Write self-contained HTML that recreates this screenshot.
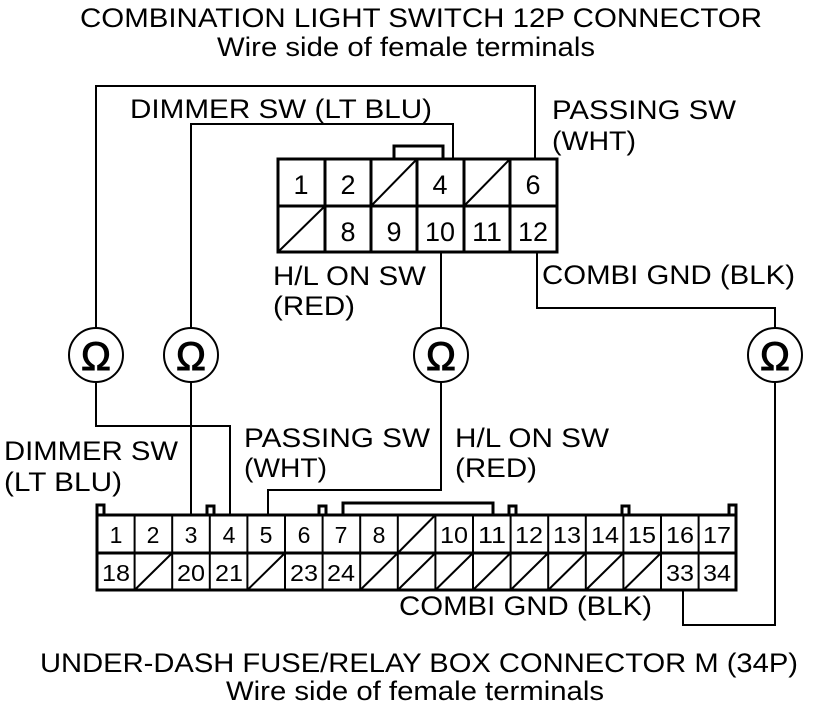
<!DOCTYPE html>
<html><head><meta charset="utf-8"><style>body{margin:0;background:#fff}svg{display:block}</style></head><body>
<svg width="832" height="708" viewBox="0 0 832 708" xmlns="http://www.w3.org/2000/svg" font-family="Liberation Sans, sans-serif" fill="#000">
<g font-size="27">
<text x="80" y="27" textLength="682" lengthAdjust="spacingAndGlyphs">COMBINATION LIGHT SWITCH 12P CONNECTOR</text>
<text x="217" y="56" textLength="378" lengthAdjust="spacingAndGlyphs">Wire side of female terminals</text>
<text x="40" y="672" textLength="758" lengthAdjust="spacingAndGlyphs">UNDER-DASH FUSE/RELAY BOX CONNECTOR M (34P)</text>
<text x="226" y="700" textLength="378" lengthAdjust="spacingAndGlyphs">Wire side of female terminals</text>
</g>
<g font-size="27" lengthAdjust="spacingAndGlyphs">
<text x="130" y="118" textLength="302" lengthAdjust="spacingAndGlyphs">DIMMER SW (LT BLU)</text>
<text x="552" y="119" textLength="184" lengthAdjust="spacingAndGlyphs">PASSING SW</text>
<text x="552" y="150" textLength="84" lengthAdjust="spacingAndGlyphs">(WHT)</text>
<text x="273" y="285" textLength="153" lengthAdjust="spacingAndGlyphs">H/L ON SW</text>
<text x="273" y="315" textLength="82" lengthAdjust="spacingAndGlyphs">(RED)</text>
<text x="542" y="284" textLength="253" lengthAdjust="spacingAndGlyphs">COMBI GND (BLK)</text>
<text x="4" y="460" textLength="174" lengthAdjust="spacingAndGlyphs">DIMMER SW</text>
<text x="4" y="491" textLength="118" lengthAdjust="spacingAndGlyphs">(LT BLU)</text>
<text x="244" y="447" textLength="186" lengthAdjust="spacingAndGlyphs">PASSING SW</text>
<text x="244" y="477" textLength="83" lengthAdjust="spacingAndGlyphs">(WHT)</text>
<text x="455" y="447" textLength="154" lengthAdjust="spacingAndGlyphs">H/L ON SW</text>
<text x="455" y="477" textLength="82" lengthAdjust="spacingAndGlyphs">(RED)</text>
<text x="399" y="615" textLength="253" lengthAdjust="spacingAndGlyphs">COMBI GND (BLK)</text>
</g>
<g fill="none" stroke="#000" stroke-width="2">
<polyline points="96,328 96,86 535,86 535,159"/>
<polyline points="96,382 96,426 230,426 230,515"/>
<polyline points="453,159 453,124 191,124 191,328"/>
<polyline points="191,382 191,515"/>
<polyline points="441,252 441,328"/>
<polyline points="441,382 441,490 268,490 268,515"/>
<polyline points="537,252 537,308 775,308 775,328"/>
<polyline points="775,382 775,625 683,625 683,590"/>
<circle cx="96" cy="355" r="27"/>
<circle cx="191" cy="355" r="27"/>
<circle cx="441" cy="355" r="27"/>
<circle cx="775" cy="355" r="27"/>
</g>
<g font-size="40" text-anchor="middle" stroke="#000" stroke-width="1">
<text x="96" y="370">Ω</text><text x="191" y="370">Ω</text><text x="441" y="370">Ω</text><text x="775" y="370">Ω</text>
</g>
<g fill="none" stroke="#000" stroke-width="3">
<rect x="278" y="159" width="279" height="93"/>
<polyline points="394,159 394,146 443,146 443,159"/>
<line x1="278" y1="206" x2="557" y2="206"/>
<line x1="325" y1="159" x2="325" y2="252"/>
<line x1="371" y1="159" x2="371" y2="252"/>
<line x1="417" y1="159" x2="417" y2="252"/>
<line x1="464" y1="159" x2="464" y2="252"/>
<line x1="510" y1="159" x2="510" y2="252"/>
</g>
<g stroke="#000" stroke-width="2">
<line x1="325" y1="206" x2="278" y2="252"/>
<line x1="417" y1="159" x2="371" y2="206"/>
<line x1="510" y1="159" x2="464" y2="206"/>
</g>
<g font-size="27" text-anchor="middle">
<text x="301" y="194">1</text><text x="348" y="194">2</text><text x="440" y="194">4</text><text x="533" y="194">6</text>
<text x="348" y="241">8</text><text x="394" y="241">9</text><text x="440" y="241" textLength="30" lengthAdjust="spacingAndGlyphs">10</text><text x="487" y="241" textLength="30" lengthAdjust="spacingAndGlyphs">11</text><text x="533" y="241" textLength="30" lengthAdjust="spacingAndGlyphs">12</text>
</g>
<g fill="none" stroke="#000" stroke-width="3">
<rect x="97" y="515" width="639" height="75"/>
<line x1="97" y1="553" x2="736" y2="553"/>
<polyline points="343,515 343,503 493,503 493,515"/>
<polyline points="97,515 97,505 104,505 104,515"/>
<polyline points="729,515 729,505 736,505 736,515"/>
<polyline points="207,515 207,506 214,506 214,515"/>
<polyline points="319,515 319,506 326,506 326,515"/>
<polyline points="509,515 509,506 516,506 516,515"/>
<polyline points="622,515 622,506 629,506 629,515"/>
</g>
<g stroke="#000" stroke-width="2">
<line x1="134.6" y1="515" x2="134.6" y2="590"/><line x1="172.2" y1="515" x2="172.2" y2="590"/>
<line x1="209.8" y1="515" x2="209.8" y2="590"/><line x1="247.4" y1="515" x2="247.4" y2="590"/>
<line x1="285" y1="515" x2="285" y2="590"/><line x1="322.6" y1="515" x2="322.6" y2="590"/>
<line x1="360.2" y1="515" x2="360.2" y2="590"/><line x1="397.8" y1="515" x2="397.8" y2="590"/>
<line x1="435.4" y1="515" x2="435.4" y2="590"/><line x1="473" y1="515" x2="473" y2="590"/>
<line x1="510.6" y1="515" x2="510.6" y2="590"/><line x1="548.2" y1="515" x2="548.2" y2="590"/>
<line x1="585.8" y1="515" x2="585.8" y2="590"/><line x1="623.4" y1="515" x2="623.4" y2="590"/>
<line x1="661" y1="515" x2="661" y2="590"/><line x1="698.6" y1="515" x2="698.6" y2="590"/>
<line x1="435.4" y1="515" x2="397.8" y2="553"/>
<line x1="172.2" y1="553" x2="134.6" y2="590"/>
<line x1="285" y1="553" x2="247.4" y2="590"/>
<line x1="397.8" y1="553" x2="360.2" y2="590"/>
<line x1="435.4" y1="553" x2="397.8" y2="590"/>
<line x1="473" y1="553" x2="435.4" y2="590"/>
<line x1="510.6" y1="553" x2="473" y2="590"/>
<line x1="548.2" y1="553" x2="510.6" y2="590"/>
<line x1="585.8" y1="553" x2="548.2" y2="590"/>
<line x1="623.4" y1="553" x2="585.8" y2="590"/>
<line x1="661" y1="553" x2="623.4" y2="590"/>
</g>
<g font-size="23" text-anchor="middle">
<text x="116" y="543">1</text><text x="153" y="543">2</text><text x="191" y="543">3</text><text x="229" y="543">4</text><text x="266" y="543">5</text><text x="304" y="543">6</text><text x="341" y="543">7</text><text x="379" y="543">8</text>
<text x="454" y="543" textLength="28" lengthAdjust="spacingAndGlyphs">10</text><text x="492" y="543" textLength="28" lengthAdjust="spacingAndGlyphs">11</text><text x="529" y="543" textLength="28" lengthAdjust="spacingAndGlyphs">12</text><text x="567" y="543" textLength="28" lengthAdjust="spacingAndGlyphs">13</text><text x="605" y="543" textLength="28" lengthAdjust="spacingAndGlyphs">14</text><text x="642" y="543" textLength="28" lengthAdjust="spacingAndGlyphs">15</text><text x="680" y="543" textLength="28" lengthAdjust="spacingAndGlyphs">16</text><text x="717" y="543" textLength="28" lengthAdjust="spacingAndGlyphs">17</text>
<text x="116" y="581" textLength="28" lengthAdjust="spacingAndGlyphs">18</text><text x="191" y="581" textLength="28" lengthAdjust="spacingAndGlyphs">20</text><text x="229" y="581" textLength="28" lengthAdjust="spacingAndGlyphs">21</text><text x="304" y="581" textLength="28" lengthAdjust="spacingAndGlyphs">23</text><text x="341" y="581" textLength="28" lengthAdjust="spacingAndGlyphs">24</text><text x="680" y="581" textLength="28" lengthAdjust="spacingAndGlyphs">33</text><text x="717" y="581" textLength="28" lengthAdjust="spacingAndGlyphs">34</text>
</g>
</svg>
</body></html>
